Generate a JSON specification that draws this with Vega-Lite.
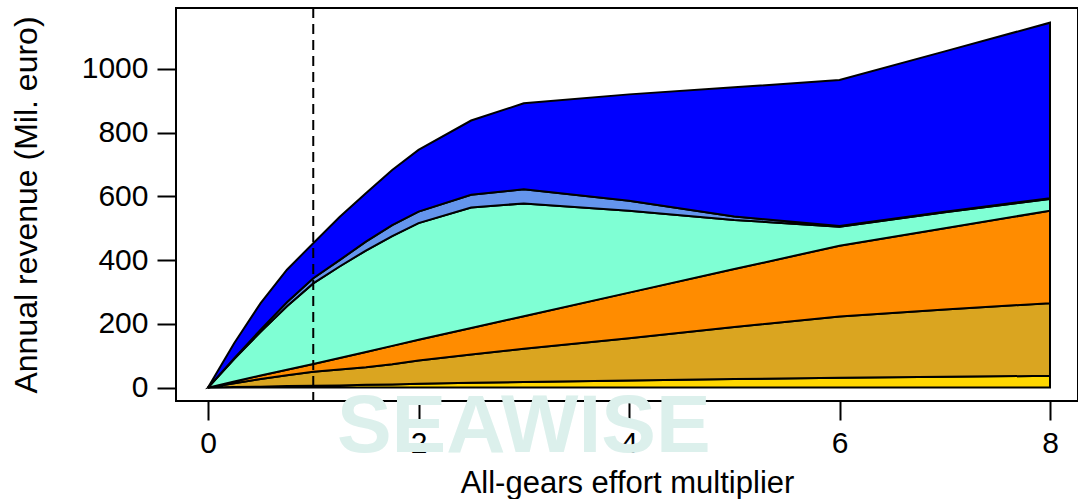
{
  "$schema": "https://vega.github.io/schema/vega-lite/v6.json",
  "autosize": {"type": "none"},
  "width": 902,
  "height": 393,
  "padding": {"left": 176, "top": 8, "right": 0, "bottom": 98},
  "background": "white",
  "config": {
    "view": {"stroke": "black", "strokeWidth": 2},
    "font": "Liberation Sans",
    "axis": {
      "grid": false,
      "domain": false,
      "ticks": true,
      "tickColor": "black",
      "tickWidth": 2,
      "tickSize": 19,
      "labelColor": "black",
      "titleColor": "black",
      "labelFont": "Liberation Sans",
      "titleFont": "Liberation Sans",
      "labelFontSize": 30,
      "titleFontSize": 31,
      "titleFontWeight": "normal",
      "zindex": 1
    }
  },
  "datasets": {
    "revenue": [
      {"x": 0, "series": "Segment 1", "revenue": 0},
      {"x": 0, "series": "Segment 2", "revenue": 0},
      {"x": 0, "series": "Segment 3", "revenue": 0},
      {"x": 0, "series": "Segment 4", "revenue": 0},
      {"x": 0, "series": "Segment 5", "revenue": 0},
      {"x": 0, "series": "Segment 6", "revenue": 0},
      {"x": 0.25, "series": "Segment 1", "revenue": 2},
      {"x": 0.25, "series": "Segment 2", "revenue": 12},
      {"x": 0.25, "series": "Segment 3", "revenue": 5},
      {"x": 0.25, "series": "Segment 4", "revenue": 71},
      {"x": 0.25, "series": "Segment 5", "revenue": 2},
      {"x": 0.25, "series": "Segment 6", "revenue": 48},
      {"x": 0.5, "series": "Segment 1", "revenue": 3},
      {"x": 0.5, "series": "Segment 2", "revenue": 24},
      {"x": 0.5, "series": "Segment 3", "revenue": 11},
      {"x": 0.5, "series": "Segment 4", "revenue": 137},
      {"x": 0.5, "series": "Segment 5", "revenue": 7},
      {"x": 0.5, "series": "Segment 6", "revenue": 83},
      {"x": 0.75, "series": "Segment 1", "revenue": 5},
      {"x": 0.75, "series": "Segment 2", "revenue": 34},
      {"x": 0.75, "series": "Segment 3", "revenue": 17},
      {"x": 0.75, "series": "Segment 4", "revenue": 199},
      {"x": 0.75, "series": "Segment 5", "revenue": 13},
      {"x": 0.75, "series": "Segment 6", "revenue": 102},
      {"x": 1, "series": "Segment 1", "revenue": 6},
      {"x": 1, "series": "Segment 2", "revenue": 44},
      {"x": 1, "series": "Segment 3", "revenue": 24},
      {"x": 1, "series": "Segment 4", "revenue": 253},
      {"x": 1, "series": "Segment 5", "revenue": 16},
      {"x": 1, "series": "Segment 6", "revenue": 110},
      {"x": 1.25, "series": "Segment 1", "revenue": 7},
      {"x": 1.25, "series": "Segment 2", "revenue": 50},
      {"x": 1.25, "series": "Segment 3", "revenue": 36},
      {"x": 1.25, "series": "Segment 4", "revenue": 287},
      {"x": 1.25, "series": "Segment 5", "revenue": 20},
      {"x": 1.25, "series": "Segment 6", "revenue": 135},
      {"x": 1.5, "series": "Segment 1", "revenue": 9},
      {"x": 1.5, "series": "Segment 2", "revenue": 55},
      {"x": 1.5, "series": "Segment 3", "revenue": 48},
      {"x": 1.5, "series": "Segment 4", "revenue": 318},
      {"x": 1.5, "series": "Segment 5", "revenue": 28},
      {"x": 1.5, "series": "Segment 6", "revenue": 152},
      {"x": 1.75, "series": "Segment 1", "revenue": 10},
      {"x": 1.75, "series": "Segment 2", "revenue": 63},
      {"x": 1.75, "series": "Segment 3", "revenue": 58},
      {"x": 1.75, "series": "Segment 4", "revenue": 344},
      {"x": 1.75, "series": "Segment 5", "revenue": 35},
      {"x": 1.75, "series": "Segment 6", "revenue": 173},
      {"x": 2, "series": "Segment 1", "revenue": 12},
      {"x": 2, "series": "Segment 2", "revenue": 73},
      {"x": 2, "series": "Segment 3", "revenue": 65},
      {"x": 2, "series": "Segment 4", "revenue": 366},
      {"x": 2, "series": "Segment 5", "revenue": 36},
      {"x": 2, "series": "Segment 6", "revenue": 194},
      {"x": 2.5, "series": "Segment 1", "revenue": 15},
      {"x": 2.5, "series": "Segment 2", "revenue": 89},
      {"x": 2.5, "series": "Segment 3", "revenue": 83},
      {"x": 2.5, "series": "Segment 4", "revenue": 378},
      {"x": 2.5, "series": "Segment 5", "revenue": 40},
      {"x": 2.5, "series": "Segment 6", "revenue": 233},
      {"x": 3, "series": "Segment 1", "revenue": 18},
      {"x": 3, "series": "Segment 2", "revenue": 104},
      {"x": 3, "series": "Segment 3", "revenue": 102},
      {"x": 3, "series": "Segment 4", "revenue": 354},
      {"x": 3, "series": "Segment 5", "revenue": 44},
      {"x": 3, "series": "Segment 6", "revenue": 270},
      {"x": 4, "series": "Segment 1", "revenue": 22},
      {"x": 4, "series": "Segment 2", "revenue": 133},
      {"x": 4, "series": "Segment 3", "revenue": 143},
      {"x": 4, "series": "Segment 4", "revenue": 257},
      {"x": 4, "series": "Segment 5", "revenue": 31},
      {"x": 4, "series": "Segment 6", "revenue": 334},
      {"x": 5, "series": "Segment 1", "revenue": 27},
      {"x": 5, "series": "Segment 2", "revenue": 163},
      {"x": 5, "series": "Segment 3", "revenue": 182},
      {"x": 5, "series": "Segment 4", "revenue": 154},
      {"x": 5, "series": "Segment 5", "revenue": 11},
      {"x": 5, "series": "Segment 6", "revenue": 405},
      {"x": 6, "series": "Segment 1", "revenue": 31},
      {"x": 6, "series": "Segment 2", "revenue": 192},
      {"x": 6, "series": "Segment 3", "revenue": 222},
      {"x": 6, "series": "Segment 4", "revenue": 60},
      {"x": 6, "series": "Segment 5", "revenue": 2},
      {"x": 6, "series": "Segment 6", "revenue": 458},
      {"x": 7, "series": "Segment 1", "revenue": 34},
      {"x": 7, "series": "Segment 2", "revenue": 211},
      {"x": 7, "series": "Segment 3", "revenue": 255},
      {"x": 7, "series": "Segment 4", "revenue": 50},
      {"x": 7, "series": "Segment 5", "revenue": 2},
      {"x": 7, "series": "Segment 6", "revenue": 503},
      {"x": 8, "series": "Segment 1", "revenue": 37},
      {"x": 8, "series": "Segment 2", "revenue": 228},
      {"x": 8, "series": "Segment 3", "revenue": 290},
      {"x": 8, "series": "Segment 4", "revenue": 37},
      {"x": 8, "series": "Segment 5", "revenue": 2},
      {"x": 8, "series": "Segment 6", "revenue": 551}
    ],
    "watermark": [{"label": "SEAWISE"}],
    "reference": [{"multiplier": 1}]
  },
  "layer": [
    {
      "data": {"name": "watermark"},
      "mark": {"type": "text", "font": "Liberation Sans", "fontSize": 82, "fontWeight": "bold", "color": "#dcf0ec", "align": "center", "baseline": "alphabetic"},
      "encoding": {
        "text": {"field": "label", "type": "nominal"},
        "x": {"datum": 3.0, "type": "quantitative"},
        "y": {"datum": -202, "type": "quantitative"}
      }
    },
    {
      "data": {"name": "revenue"},
      "mark": {"type": "area", "stroke": "black", "strokeWidth": 2, "interpolate": "linear", "opacity": 1},
      "encoding": {
        "x": {
          "field": "x", "type": "quantitative",
          "scale": {"domain": [-0.3041, 8.266], "nice": false, "zero": false},
          "axis": {"values": [0, 2, 4, 6, 8], "format": "d", "title": "All-gears effort multiplier", "labelPadding": 8, "titlePadding": 10}
        },
        "y": {
          "field": "revenue", "type": "quantitative", "stack": "zero",
          "scale": {"domain": [-42, 1191], "nice": false, "zero": false},
          "axis": {"values": [0, 200, 400, 600, 800, 1000], "format": "d", "title": "Annual revenue (Mil. euro)", "titleFontSize": 32, "labelPadding": 9, "titlePadding": 38}
        },
        "color": {
          "field": "series", "type": "nominal",
          "scale": {
            "domain": ["Segment 1", "Segment 2", "Segment 3", "Segment 4", "Segment 5", "Segment 6"],
            "range": ["#FFD700", "#DAA520", "#FF8C00", "#7FFFD4", "#6495ED", "#0000FF"]
          },
          "legend": null
        },
        "order": {"field": "series", "sort": "ascending"}
      }
    },
    {
      "data": {"name": "reference"},
      "mark": {"type": "rule", "color": "black", "strokeWidth": 2, "strokeDash": [10, 6]},
      "encoding": {
        "x": {"field": "multiplier", "type": "quantitative"}
      }
    }
  ]
}
